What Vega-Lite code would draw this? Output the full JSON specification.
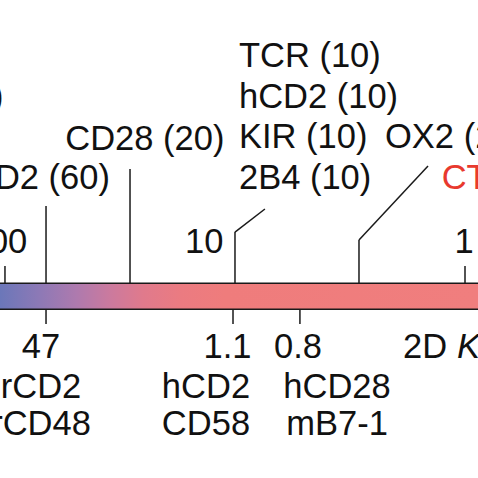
{
  "$schema": "https://vega.github.io/schema/vega-lite/v6.json",
  "width": 478,
  "height": 478,
  "autosize": {"type": "none"},
  "padding": 0,
  "background": "white",
  "config": {"view": {"stroke": null}},
  "datasets": {
    "bar": [{"kd": 105.1, "kd2": 0.878, "row": -2.956, "row2": -2.317}],
    "lines": [
      {"kd": 105.1, "kd2": 0.878, "row": -2.317, "row2": -2.317},
      {"kd": 105.1, "kd2": 0.878, "row": -2.956, "row2": -2.956},
      {"kd": 100, "kd2": 100, "row": -2.317, "row2": -1.892},
      {"kd": 1, "kd2": 1, "row": -2.317, "row2": -1.892},
      {"kd": 66.3, "kd2": 66.3, "row": -2.317, "row2": -0.418},
      {"kd": 28.6, "kd2": 28.6, "row": -2.317, "row2": 0.491},
      {"kd": 10, "kd2": 10, "row": -2.317, "row2": -1.057},
      {"kd": 10, "kd2": 7.41, "row": -1.057, "row2": -0.491},
      {"kd": 2.89, "kd2": 2.89, "row": -2.317, "row2": -1.253},
      {"kd": 2.89, "kd2": 1.448, "row": -1.253, "row2": 0.565},
      {"kd": 66.3, "kd2": 66.3, "row": -2.956, "row2": -3.317},
      {"kd": 10.2, "kd2": 10.2, "row": -2.956, "row2": -3.317},
      {"kd": 5.22, "kd2": 5.22, "row": -2.956, "row2": -3.317}
    ],
    "leftText": [
      {"kd": 9.61, "row": 3, "label": "TCR (10)"},
      {"kd": 9.61, "row": 2, "label": "hCD2 (10)"},
      {"kd": 9.61, "row": 1, "label": "KIR (10)"},
      {"kd": 9.61, "row": 0, "label": "2B4 (10)"},
      {"kd": 54.7, "row": 0.95, "label": "CD28 (20)"},
      {"kd": 2.227, "row": 1, "label": "OX2 (2.5)"},
      {"kd": 1.86, "row": -4.152, "label": "2D"}
    ],
    "redText": [
      {"kd": 1.263, "row": 0, "label": "CTLA-4 (0.2)"}
    ],
    "italicText": [
      {"kd": 1.083, "row": -4.152, "label": "K"}
    ],
    "rightText": [
      {"kd": 34.96, "row": 0, "label": "rCD2 (60)"},
      {"kd": 101.5, "row": 2, "label": "CD4 (100)"}
    ],
    "centerText": [
      {"kd": 106.7, "row": -1.572, "label": "100"},
      {"kd": 13.6, "row": -1.572, "label": "10"},
      {"kd": 1.01, "row": -1.572, "label": "1"},
      {"kd": 69.7, "row": -4.152, "label": "47"},
      {"kd": 10.78, "row": -4.152, "label": "1.1"},
      {"kd": 5.32, "row": -4.152, "label": "0.8"},
      {"kd": 69.7, "row": -5.135, "label": "rCD2"},
      {"kd": 69.7, "row": -6.044, "label": "rCD48"},
      {"kd": 13.37, "row": -5.135, "label": "hCD2"},
      {"kd": 13.37, "row": -6.044, "label": "CD58"},
      {"kd": 3.6, "row": -5.135, "label": "hCD28"},
      {"kd": 3.6, "row": -6.044, "label": "mB7-1"}
    ]
  },
  "encoding": {
    "x": {"field": "kd", "type": "quantitative", "axis": null,
          "scale": {"type": "log", "domain": [0.878, 105.1], "reverse": true, "nice": false, "zero": false}},
    "y": {"field": "row", "type": "quantitative", "axis": null,
          "scale": {"domain": [-7.1, 4.644], "nice": false, "zero": false}}
  },
  "layer": [
    {
      "data": {"name": "bar"},
      "mark": {"type": "rect", "clip": true,
        "color": {"gradient": "linear", "x1": 0, "x2": 1, "y1": 0, "y2": 0,
          "stops": [
            {"offset": 0, "color": "#6b77b9"},
            {"offset": 0.08, "color": "#8c79b6"},
            {"offset": 0.16, "color": "#ae7aae"},
            {"offset": 0.23, "color": "#cb7a9e"},
            {"offset": 0.3, "color": "#e07a8c"},
            {"offset": 0.38, "color": "#eb7b81"},
            {"offset": 0.47, "color": "#ef7c7c"},
            {"offset": 1, "color": "#f07e7e"}
          ]}},
      "encoding": {
        "x2": {"field": "kd2"},
        "y2": {"field": "row2"}
      }
    },
    {
      "data": {"name": "lines"},
      "mark": {"type": "rule", "clip": true, "color": "#1a1a1a", "strokeWidth": 1.5},
      "encoding": {
        "x2": {"field": "kd2"},
        "y2": {"field": "row2"}
      }
    },
    {
      "data": {"name": "leftText"},
      "mark": {"type": "text", "clip": true, "align": "left", "baseline": "alphabetic", "font": "Liberation Sans", "fontSize": 34.5, "color": "#111111"},
      "encoding": {"text": {"field": "label"}}
    },
    {
      "data": {"name": "redText"},
      "mark": {"type": "text", "clip": true, "align": "left", "baseline": "alphabetic", "font": "Liberation Sans", "fontSize": 34.5, "color": "#e8392e"},
      "encoding": {"text": {"field": "label"}}
    },
    {
      "data": {"name": "italicText"},
      "mark": {"type": "text", "clip": true, "align": "left", "baseline": "alphabetic", "font": "Liberation Sans", "fontStyle": "italic", "fontSize": 34.5, "color": "#111111"},
      "encoding": {"text": {"field": "label"}}
    },
    {
      "data": {"name": "rightText"},
      "mark": {"type": "text", "clip": true, "align": "right", "baseline": "alphabetic", "font": "Liberation Sans", "fontSize": 34.5, "color": "#111111"},
      "encoding": {"text": {"field": "label"}}
    },
    {
      "data": {"name": "centerText"},
      "mark": {"type": "text", "clip": true, "align": "center", "baseline": "alphabetic", "font": "Liberation Sans", "fontSize": 34.5, "color": "#111111"},
      "encoding": {"text": {"field": "label"}}
    }
  ]
}
